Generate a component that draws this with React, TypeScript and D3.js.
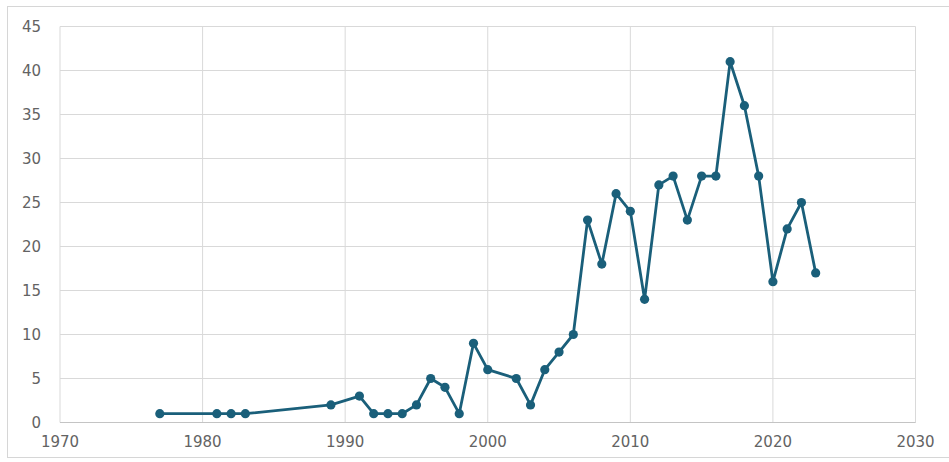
import React from "react";
import * as d3 from "d3";

// Yearly counts plotted as a marked line
const years = [1977, 1981, 1982, 1983, 1989, 1991, 1992, 1993, 1994, 1995, 1996, 1997, 1998, 1999, 2000, 2002, 2003, 2004, 2005, 2006, 2007, 2008, 2009, 2010, 2011, 2012, 2013, 2014, 2015, 2016, 2017, 2018, 2019, 2020, 2021, 2022, 2023];
const counts = [1, 1, 1, 1, 2, 3, 1, 1, 1, 2, 5, 4, 1, 9, 6, 5, 2, 6, 8, 10, 23, 18, 26, 24, 14, 27, 28, 23, 28, 28, 41, 36, 28, 16, 22, 25, 17];
const xTicks = [1970, 1980, 1990, 2000, 2010, 2020, 2030];
const yTicks = [0, 5, 10, 15, 20, 25, 30, 35, 40, 45];

const W = 949;
const H = 462;
const LINE = "#1a5f7a";
const GRID = "#d9d9d9";
const TEXT = "#636363";
const FONT = "'DejaVu Sans', Verdana, sans-serif";

export default function App() {
  const x = d3.scaleLinear().domain([1970, 2030]).range([60, 915.5]);
  const y = d3.scaleLinear().domain([0, 45]).range([422.5, 26.5]);
  const points = years.map((yr, i) => [yr, counts[i]] as [number, number]);
  const line = d3
    .line<[number, number]>()
    .x((d) => x(d[0]))
    .y((d) => y(d[1]));

  return (
    <svg
      width={W}
      height={H}
      style={{ position: "absolute", left: 0, top: 0, background: "#fff" }}
    >
      <rect x={7.5} y={6.5} width={W} height={451} fill="#fff" stroke="#d6d6d6" />
      {yTicks.map((t) => (
        <line key={"h" + t} x1={x(1970)} x2={x(2030)} y1={y(t)} y2={y(t)} stroke={GRID} strokeWidth={1} />
      ))}
      {xTicks.map((t) => (
        <line key={"v" + t} x1={x(t)} x2={x(t)} y1={y(45)} y2={y(0)} stroke={GRID} strokeWidth={1} />
      ))}
      <line x1={x(1970)} x2={x(2030)} y1={y(0)} y2={y(0)} stroke="#c4c4c4" strokeWidth={1} />
      {yTicks.map((t) => (
        <text key={"yl" + t} x={41} y={y(t)} dy="0.36em" textAnchor="end" fontFamily={FONT} fontSize={15} fill={TEXT}>
          {t}
        </text>
      ))}
      {xTicks.map((t) => (
        <text key={"xl" + t} x={x(t)} y={447} textAnchor="middle" fontFamily={FONT} fontSize={15} fill={TEXT}>
          {t}
        </text>
      ))}
      <path d={line(points) ?? ""} fill="none" stroke={LINE} strokeWidth={2.8} strokeLinejoin="round" />
      {points.map((p, i) => (
        <circle key={i} cx={x(p[0])} cy={y(p[1])} r={4.6} fill={LINE} />
      ))}
    </svg>
  );
}
